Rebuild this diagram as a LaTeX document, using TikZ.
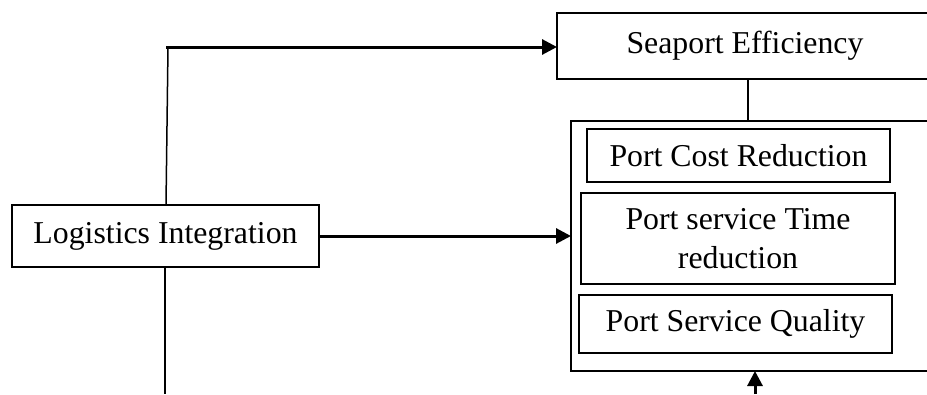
\documentclass[tikz,border=0pt]{standalone}
\usepackage{fontspec}
\setmainfont{Liberation Serif}
\usetikzlibrary{arrows.meta}
\begin{document}
\begin{tikzpicture}[x=1pt,y=-1pt,
  box/.style={draw,line width=2.6pt,inner sep=0pt,outer sep=0pt,align=center,
    font=\fontsize{31.8}{38.5}\selectfont},
  arr/.style={line width=3pt,-{Triangle[length=15pt,width=15pt]}},
  thin/.style={line width=1.5pt}]
\useasboundingbox (0,0) rectangle (927,394);
\clip (0,0) rectangle (927,394);
% boxes
\node[box,minimum width=376pt,minimum height=66pt] (sea) at (745,46) {Seaport Efficiency};
\node[box,minimum width=307pt,minimum height=62pt] (log) at (165.5,236) {Logistics Integration};
\node[box,minimum width=364pt,minimum height=250pt] (outer) at (753,246) {};
\node[box,minimum width=303pt,minimum height=53pt] (pc) at (738.5,155.5) {Port Cost Reduction};
\node[box,minimum width=314pt,minimum height=91pt] (pt) at (738,238.5) {Port service Time\\reduction};
\node[box,minimum width=313pt,minimum height=58pt] (pq) at (735.5,324) {Port Service Quality};
% helper coordinates
\coordinate (tl) at (166,47);
\coordinate (bl) at (165,394);
\coordinate (cx) at (748,0);
\coordinate (bx) at (755,394);
% connectors
\draw[arr] (tl) -- (tl -| sea.west);
\draw[thin] (168,47) -- (log.north -| tl);
\draw[thin] (log.south -| bl) -- (bl);
\draw[arr] (log.east) -- (log.east -| outer.west);
\draw[thin] (sea.south -| cx) -- (outer.north -| cx);
\draw[arr] (bx) -- (outer.south -| bx);
\end{tikzpicture}
\end{document}
